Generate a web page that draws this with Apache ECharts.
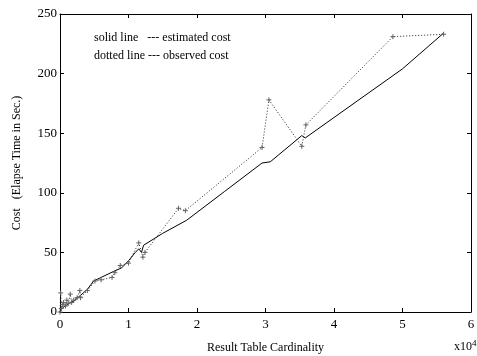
<!DOCTYPE html>
<html>
<head>
<meta charset="utf-8">
<script src="https://cdn.jsdelivr.net/npm/echarts@6/dist/echarts.min.js"></script>
<style>
  html, body {margin: 0; padding: 0; background: #fff;}
  #chart {width: 477px; height: 356px;}
</style>
</head>
<body>
<div id="chart"></div>
<script>
// x values are result table cardinality in units of 10^4, y is cost in seconds
const estimatedX = [0, 0.02, 0.05, 0.1, 0.15, 0.2, 0.29, 0.4, 0.49, 0.6, 0.78, 0.9, 1.0, 1.1, 1.15, 1.19, 1.22, 1.5, 1.85, 2.4, 2.95, 3.07, 3.53, 3.58, 5.0, 5.6]
const estimatedY = [0, 2, 4, 6, 8, 9, 13.5, 19, 26, 29, 34, 37, 43, 50, 53, 50, 56, 66, 77, 101, 125, 126, 148, 146, 204, 234]
const observedX = [0, 0.01, 0.02, 0.04, 0.05, 0.08, 0.1, 0.12, 0.15, 0.17, 0.2, 0.25, 0.29, 0.3, 0.4, 0.51, 0.6, 0.76, 0.8, 0.88, 1.0, 1.15, 1.21, 1.24, 1.73, 1.83, 2.95, 3.05, 3.53, 3.59, 4.86, 5.6]
const observedY = [0, 16, 3, 6, 8, 5, 10, 7, 15, 8, 10, 12, 18, 12, 18, 26, 27, 29, 33, 39, 41, 58, 46, 50, 87, 85, 138, 178, 139, 157, 231, 233]
const xTicks = [0, 1, 2, 3, 4, 5, 6]
const yTicks = [0, 50, 100, 150, 200, 250]

const font = 'Liberation Serif'
const chart = echarts.init(document.getElementById('chart'))

const pairs = (xs, ys) => xs.map((x, i) => [x, ys[i]])
const plus = 'path://M0,5L10,5M5,0L5,10'

const boxAxis = {
    min: 0,
    axisLine: {show: true, onZero: false, lineStyle: {color: '#000', width: 1}},
    axisTick: {show: true, inside: true, length: 4, lineStyle: {color: '#000'}},
    splitLine: {show: false},
}

chart.setOption({
    animation: false,
    textStyle: {fontFamily: font},
    grid: {left: 60, right: 6, top: 14, bottom: 44, outerBoundsMode: 'none'},
    xAxis: [{
        ...boxAxis,
        type: 'value',
        max: xTicks[xTicks.length - 1],
        interval: 1,
        axisLabel: {color: '#000', fontSize: 13, fontFamily: font, margin: 6},
        name: 'Result Table Cardinality',
        nameLocation: 'middle',
        nameGap: 30,
        nameTextStyle: {color: '#000', fontSize: 12, fontFamily: font},
    }, {
        ...boxAxis,
        type: 'value',
        position: 'top',
        max: xTicks[xTicks.length - 1],
        interval: 1,
        axisLabel: {show: false},
    }],
    yAxis: [{
        ...boxAxis,
        type: 'value',
        max: yTicks[yTicks.length - 1],
        interval: 50,
        axisLabel: {color: '#000', fontSize: 13, fontFamily: font, margin: 3},
        name: 'Cost   (Elapse Time in Sec.)',
        nameLocation: 'middle',
        nameGap: 37,
        nameTextStyle: {color: '#000', fontSize: 12, fontFamily: font},
    }, {
        ...boxAxis,
        type: 'value',
        position: 'right',
        max: yTicks[yTicks.length - 1],
        interval: 50,
        axisLabel: {show: false},
    }],
    graphic: [
        {type: 'text', left: 94, top: 32, style: {text: 'solid line   --- estimated cost', font: '12px "Liberation Serif"', fill: '#000'}},
        {type: 'text', left: 94, top: 50, style: {text: 'dotted line --- observed cost', font: '12px "Liberation Serif"', fill: '#000'}},
        {type: 'text', left: 454, top: 339, style: {
            text: '{b|x10}{s|4}',
            rich: {
                b: {font: '12px "Liberation Serif"', fill: '#000'},
                s: {font: '9px "Liberation Serif"', fill: '#000', verticalAlign: 'top', padding: [0, 0, 6, 0]},
            },
        }},
    ],
    series: [{
        type: 'line',
        data: pairs(estimatedX, estimatedY),
        showSymbol: false,
        lineStyle: {color: '#000', width: 1},
    }, {
        type: 'line',
        data: pairs(observedX, observedY),
        symbol: plus,
        symbolSize: 5,
        itemStyle: {color: 'none', borderColor: '#666', borderWidth: 1},
        lineStyle: {color: '#222', width: 1, type: [1, 2]},
    }],
})
</script>
</body>
</html>
